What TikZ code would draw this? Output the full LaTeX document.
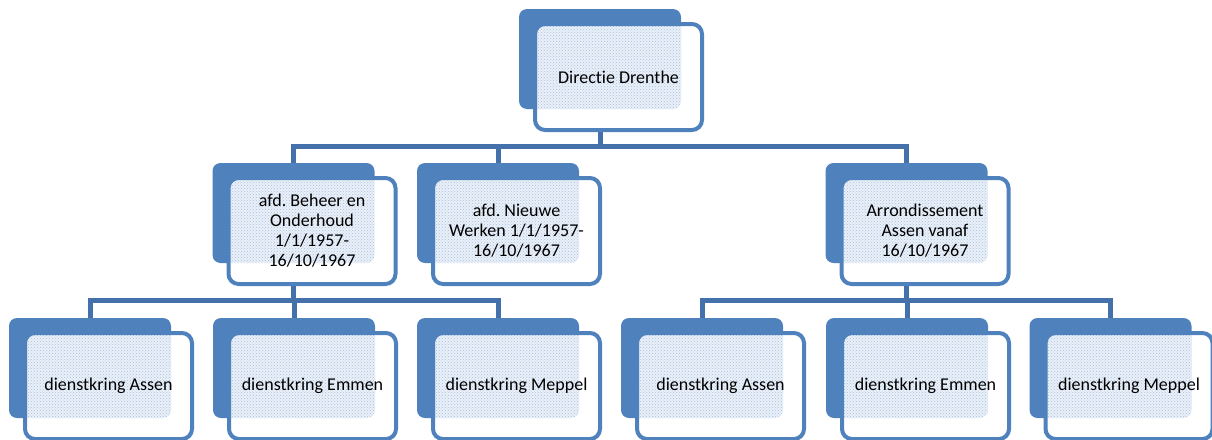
\documentclass[tikz,border=0pt]{standalone}
\usepackage{fontspec}
\setmainfont{Carlito}[Ligatures=NoCommon]
\usetikzlibrary{patterns}
\frenchspacing
\definecolor{boxblue}{HTML}{4F81BD}
\definecolor{connblue}{HTML}{4470AB}
\definecolor{patblue}{HTML}{A9C0DF}
\definecolor{patbg}{HTML}{EAF0F8}
\tikzset{
 backbox/.style={rectangle, rounded corners=8pt, fill=boxblue, minimum width=162pt, minimum height=100pt, inner sep=0pt, outer sep=0pt},
 frontbox/.style={rectangle, rounded corners=10pt, draw=boxblue, line width=4pt, fill=white, minimum width=167pt, minimum height=106pt, inner sep=0pt, align=center, font=\fontsize{18}{20}\selectfont\frenchspacing, text=black,
   path picture={\fill[patbg, rounded corners=8pt] ([xshift=-100pt,yshift=70pt]path picture bounding box.center) rectangle ([xshift=62.5pt,yshift=-32pt]path picture bounding box.center);
     \fill[pattern=crosshatch dots, pattern color=patblue, rounded corners=8pt] ([xshift=-100pt,yshift=70pt]path picture bounding box.center) rectangle ([xshift=62.5pt,yshift=-32pt]path picture bounding box.center);}},
 conn/.style={draw=connblue, line width=5pt}
}
\newcommand\orgunit[4]{%
 \node[backbox] (#1B) at (#2,#3) {};
 \node[frontbox] (#1) at (#2+18.5,#3+18) {#4};
}
\begin{document}
\begin{tikzpicture}[x=1pt,y=-1pt]
\useasboundingbox (0,0) rectangle (1212,439);
\orgunit{top}{600}{59}{Directie Drenthe}
\orgunit{ma}{293.5}{213}{afd. Beheer en\\Onderhoud\\1/1/1957-\\16/10/1967}
\orgunit{mb}{498}{213}{afd. Nieuwe\\Werken 1/1/1957-\\16/10/1967}
\orgunit{mc}{906.5}{213}{Arrondissement\\Assen vanaf\\16/10/1967}
\orgunit{ba}{90}{368}{dienstkring Assen}
\orgunit{bb}{294}{368}{dienstkring Emmen}
\orgunit{bc}{498}{368}{dienstkring Meppel}
\orgunit{bd}{702}{368}{dienstkring Assen}
\orgunit{be}{907}{368}{dienstkring Emmen}
\orgunit{bf}{1110.5}{368}{dienstkring Meppel}
\coordinate (busT) at (600,146);
\coordinate (busL) at (293.5,300);
\coordinate (busR) at (906.5,300);
\draw[conn] (topB.center |- top.south) -- (busT);
\draw[conn] (maB.north) |- (busT) -| (mcB.north);
\draw[conn] (mbB.north) -- (mbB.north |- busT);
\draw[conn] (maB.center |- ma.south) -- (busL);
\draw[conn] (baB.north) |- (busL) -| (bcB.north);
\draw[conn] (bbB.north) -- (bbB.north |- busL);
\draw[conn] (mcB.center |- mc.south) -- (busR);
\draw[conn] (bdB.north) |- (busR) -| (bfB.north);
\draw[conn] (beB.north) -- (beB.north |- busR);
\end{tikzpicture}
\end{document}
